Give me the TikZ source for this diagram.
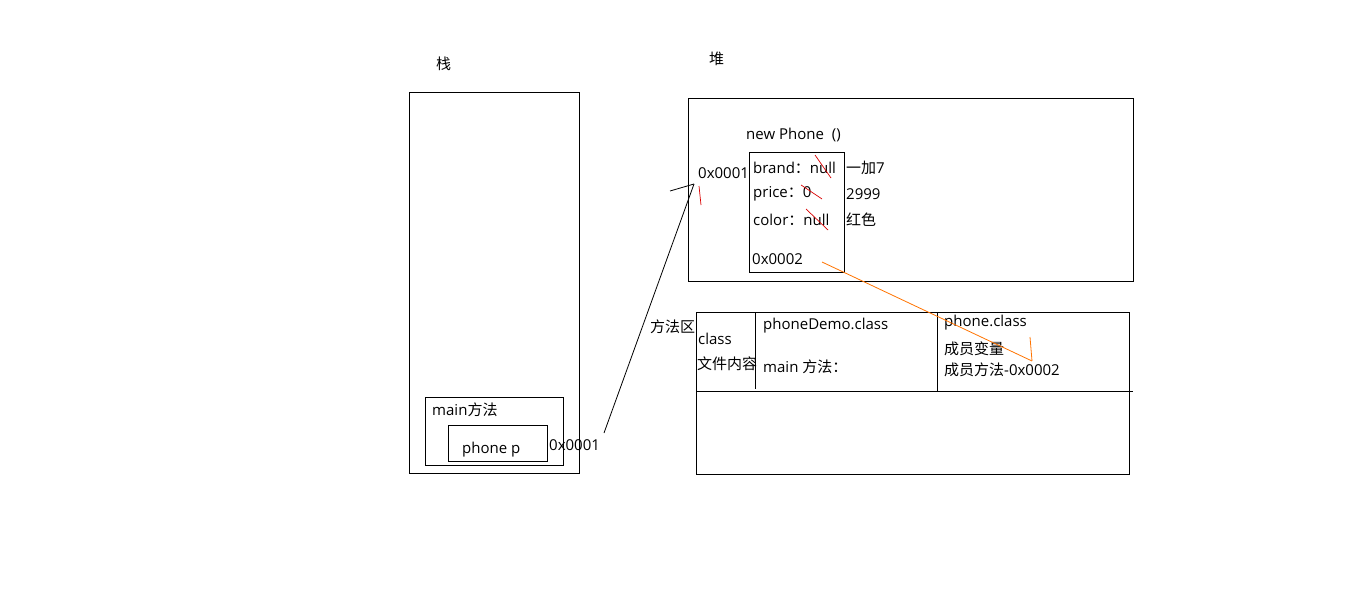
\documentclass[tikz,border=0pt]{standalone}
\usepackage{fontspec}
\setmainfont{Open Sans}
\newfontfamily\cjk{Noto Sans CJK SC}
\begin{document}
\begin{tikzpicture}[x=1pt,y=-1pt,
  txt/.style={anchor=west,inner sep=0pt,font=\fontsize{15}{17}\selectfont},
  box/.style={draw=black,line width=0.9pt},
  strike/.style={draw=red!85!black,line width=0.7pt},
  ora/.style={draw=orange!90!red,line width=0.8pt}]
\useasboundingbox (0,0) rectangle (1360,597);
% labels
\node[txt] (zhan) at (436,64) {\cjk 栈};
\node[txt] (dui) at (709,59) {\cjk 堆};
% stack
\draw[box] (409,92) rectangle (579,473);
\draw[box] (425,397) rectangle (563,465);
\node[txt] (mainm) at (432,410) {main\cjk 方法};
\draw[box] (448,425) rectangle (547,461);
\node[txt] (pp) at (462,450) {phone p};
\node[txt] (addr1) at (549,445) {0x0001};
% heap
\draw[box] (688,98) rectangle (1133,281);
\node[txt] (newp) at (746,135) {new Phone\ \ ()};
\draw[box] (749,152) rectangle (844,272);
\node[txt] (haddr) at (698,173) {0x0001};
\node[txt] (brand) at (753,168) {brand{\cjk ：}null};
\node[txt] (price) at (753,194) {price{\cjk ：}0};
\node[txt] (color) at (753,220) {color{\cjk ：}null};
\node[txt] (addr2) at (752,259) {0x0002};
\node[txt] (v1) at (846,168) {{\cjk 一加}7};
\node[txt] (v2) at (846,194) {2999};
\node[txt] (v3) at (846,220) {\cjk 红色};
% strikes
\draw[strike] (815,155) -- (831,178);
\draw[strike] (801,185) -- (822,199);
\draw[strike] (806,209) -- (828,230);
\draw[strike] (699,186) -- (701,205);
% method area
\node[txt] (ffq) at (650,327) {\cjk 方法区};
\draw[box] (696,312) rectangle (1129,474);
\draw[box] (697,391) -- (1133,391);
\draw[box] (755,312) -- (755,389);
\draw[box] (937,312) -- (937,391);
\node[txt] (cls) at (698,339) {class};
\node[txt] (wjnr) at (697,364) {\cjk 文件内容};
\node[txt] (pdc) at (763,326) {phoneDemo.class};
\node[txt] (mainff) at (763,367) {main {\cjk 方法：}};
\node[txt] (pc) at (944,323) {phone.class};
\node[txt] (cybl) at (944,349) {\cjk 成员变量};
\node[txt] (cyff) at (944,370) {{\cjk 成员方法}-0x0002};
% connectors
\coordinate (s1) at (604,433);
\coordinate (e1) at (694,184);
\coordinate (t1) at (670,191);
\draw[line width=0.8pt] (s1) -- (e1);
\draw[line width=0.8pt] (t1) -- (e1);
\coordinate (s2) at (822,262);
\coordinate (e2) at (1032,361);
\coordinate (t2) at (1030,337);
\draw[ora] (s2) -- (e2);
\draw[ora] (t2) -- (e2);
\end{tikzpicture}
\end{document}
